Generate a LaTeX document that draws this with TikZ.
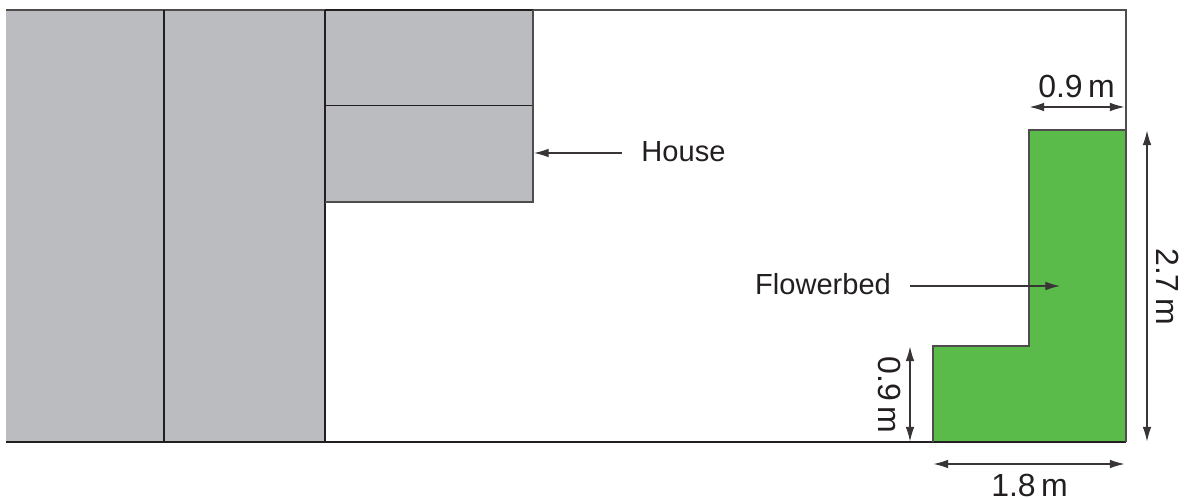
\documentclass[tikz,border=0pt]{standalone}
\usepackage{fontspec}
\setmainfont{Liberation Sans}
\usetikzlibrary{arrows.meta}
\definecolor{ink}{HTML}{231F20}
\definecolor{roofgrey}{HTML}{BBBCBF}
\definecolor{bedgreen}{HTML}{5ABB4A}
\tikzset{
  outline/.style={draw=ink,line width=0.85pt,line join=miter},
  thinline/.style={draw=ink!80,line width=0.85pt,line join=miter},
  dimarrow/.style={draw=ink!90,line width=0.85pt,{Latex[length=11pt,width=6.5pt]}-{Latex[length=11pt,width=6.5pt]}},
  leader/.style={draw=ink!90,line width=0.85pt,-{Latex[length=11pt,width=6.5pt]}},
  lab/.style={font=\fontsize{21.8pt}{24pt}\selectfont,text=ink,inner sep=0pt,outer sep=0pt},
  dimlab/.style={font=\fontsize{24pt}{26pt}\selectfont,text=ink,inner sep=0pt,outer sep=0pt}
}
\begin{document}
\begin{tikzpicture}[x=0.75pt,y=-0.75pt]
\useasboundingbox (0,0) rectangle (1184,498);
% grey blocks
\fill[roofgrey] (6,10) rectangle (325,442);
\fill[roofgrey] (325,10) rectangle (533,202);
% green bed
\fill[bedgreen] (933,442) -- (933,346) -- (1029,346) -- (1029,130) -- (1126,130) -- (1126,442) -- cycle;
% outlines
\draw[thinline] (6,10) -- (1126,10) -- (1126,130);
\draw[outline] (325,10) -- (533,10);
\draw[outline] (6,442) -- (1126,442);
\draw[outline] (164,10) -- (164,442);
\draw[outline] (325,10) -- (325,442);
\draw[outline] (325,105.5) -- (533,105.5);
\draw[thinline] (325,202) -- (533,202) -- (533,10);
\draw[thinline] (933,442) -- (933,346) -- (1029,346) -- (1029,130) -- (1126,130) -- (1126,442);
% labels
\node[lab] (house) at (683.5,152) {House};
\node[lab] (bed) at (823,284) {Flowerbed};
\node[dimlab] (topw) at (1076.5,86) {0.9\,m};
\node[dimlab] (botw) at (1029.5,485) {1.8\,m};
\node[dimlab,rotate=-90] (tall) at (1167.5,286.5) {2.7\,m};
\node[dimlab,rotate=-90] (low) at (890,395) {0.9\,m};
% leader and dimension ends
\coordinate (hs) at (622,153);
\coordinate (he) at (534,153);
\coordinate (bs) at (910,286);
\coordinate (be) at (1060,286);
\coordinate (t1) at (1029.5,107);
\coordinate (t2) at (1124.5,107);
\coordinate (b1) at (933.5,464);
\coordinate (b2) at (1124.5,464);
\coordinate (r1) at (1147,130.5);
\coordinate (r2) at (1147,441.5);
\coordinate (l1) at (910,346.5);
\coordinate (l2) at (910,441.5);
\draw[leader] (hs) -- (he);
\draw[leader] (bs) -- (be);
\draw[dimarrow] (t1) -- (t2);
\draw[dimarrow] (b1) -- (b2);
\draw[dimarrow] (r1) -- (r2);
\draw[dimarrow] (l1) -- (l2);
\end{tikzpicture}
\end{document}
